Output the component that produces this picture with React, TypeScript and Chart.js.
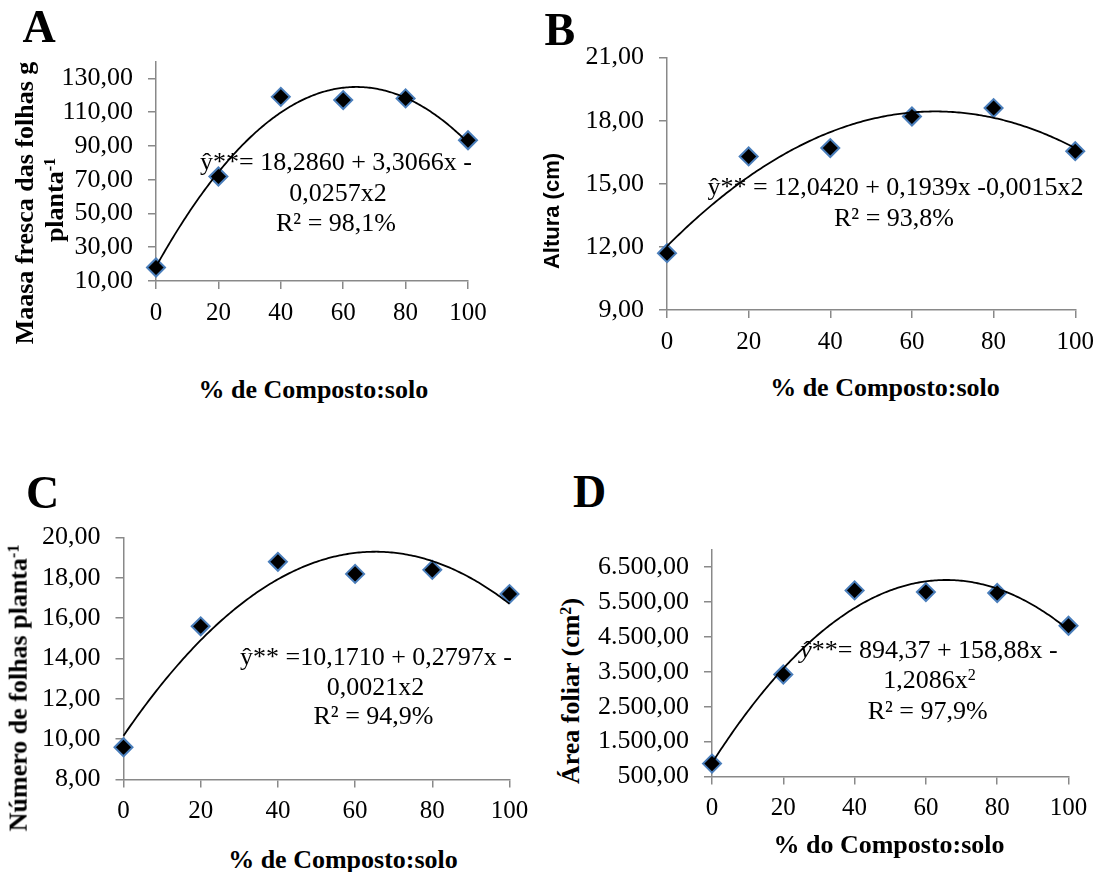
import React, { useEffect, useRef } from 'react';
import { Chart, registerables } from 'chart.js';

Chart.register(...registerables);

// ---------------- data ----------------
const COMPOSTO = [0, 20, 40, 60, 80, 100];
const MASSA_FRESCA = [18.0, 71.9, 119.1, 117.2, 118.2, 93.4];
const ALTURA = [11.7, 16.3, 16.7, 18.2, 18.6, 16.55];
const NUM_FOLHAS = [9.6, 15.6, 18.8, 18.2, 18.4, 17.2];
const AREA_FOLIAR = [869, 3422, 5831, 5784, 5756, 4819];

const X_TICKS = [0, 20, 40, 60, 80, 100];
const A_Y_TICKS = [10, 30, 50, 70, 90, 110, 130];
const B_Y_TICKS = [9, 12, 15, 18, 21];
const C_Y_TICKS = [8, 10, 12, 14, 16, 18, 20];
const D_Y_TICKS = [500, 1500, 2500, 3500, 4500, 5500, 6500];

const A_Y_RANGE = [10, 140];
const B_Y_RANGE = [9, 21];
const C_Y_RANGE = [8, 20];
const D_Y_RANGE = [500, 7000];

// ---------------- style ----------------
const AXIS = '#898989';
const SERIF = '"Liberation Serif", "Times New Roman", serif';
const SANS = '"Liberation Sans", Arial, sans-serif';

function fmtBR(v: number): string {
  const [i, d] = Number(v).toFixed(2).split('.');
  const int = i.replace(/\B(?=(\d{3})+(?!\d))/g, '.');
  return int + ',' + d;
}

// least-squares quadratic trendline (as the spreadsheet computes it)
function quadFit(xs: number[], ys: number[]): [number, number, number] {
  let s0 = 0, s1 = 0, s2 = 0, s3 = 0, s4 = 0, t0 = 0, t1 = 0, t2 = 0;
  for (let k = 0; k < xs.length; k++) {
    const x = xs[k], y = ys[k];
    s0 += 1; s1 += x; s2 += x * x; s3 += x * x * x; s4 += x * x * x * x;
    t0 += y; t1 += x * y; t2 += x * x * y;
  }
  const M = [
    [s0, s1, s2, t0],
    [s1, s2, s3, t1],
    [s2, s3, s4, t2],
  ];
  for (let c = 0; c < 3; c++) {
    for (let r = c + 1; r < 3; r++) {
      const f = M[r][c] / M[c][c];
      for (let k = c; k < 4; k++) M[r][k] -= f * M[c][k];
    }
  }
  const sol = [0, 0, 0];
  for (let r = 2; r >= 0; r--) {
    let v = M[r][3];
    for (let k = r + 1; k < 3; k++) v -= M[r][k] * sol[k];
    sol[r] = v / M[r][r];
  }
  return [sol[0], sol[1], sol[2]];
}

type Plot = { l: number; r: number; t: number; b: number };

type PanelProps = {
  plot: Plot;
  ys: number[];
  yRange: number[];
  yTicks: number[];
};

function ScatterPanel({ plot, ys, yRange, yTicks }: PanelProps) {
  const ref = useRef<HTMLCanvasElement | null>(null);

  const left = Math.floor(plot.l - 120);
  const top = Math.floor(plot.t - 22);
  const right = Math.min(1103, Math.ceil(plot.r + 28));
  const bottom = Math.ceil(plot.b + 52);
  const width = right - left;
  const height = bottom - top;
  const YW = plot.l - left;
  const PT = plot.t - top;
  const PR = right - plot.r;
  const XH = bottom - plot.b;

  useEffect(() => {
    if (!ref.current) return;
    const [a, b, c] = quadFit(COMPOSTO, ys);
    const curve: { x: number; y: number }[] = [];
    const x0 = COMPOSTO[0];
    const x1 = COMPOSTO[COMPOSTO.length - 1];
    for (let k = 0; k <= 200; k++) {
      const x = x0 + ((x1 - x0) * k) / 200;
      curve.push({ x, y: a + b * x + c * x * x });
    }
    const points = COMPOSTO.map((x, i) => ({ x, y: ys[i] }));

    const chart = new Chart(ref.current, {
      type: 'scatter',
      data: {
        datasets: [
          {
            type: 'line',
            data: curve,
            borderColor: '#000',
            borderWidth: 1.8,
            pointRadius: 0,
            fill: false,
            tension: 0,
            clip: false,
            order: 0,
          } as any,
          {
            type: 'scatter',
            data: points,
            pointStyle: 'rectRot',
            pointRadius: 9,
            backgroundColor: '#000',
            borderColor: '#4a7ebb',
            borderWidth: 2,
            clip: false,
            order: 1,
          } as any,
        ],
      },
      options: {
        animation: false,
        responsive: false,
        maintainAspectRatio: false,
        events: [],
        layout: { padding: { left: 0, top: PT, right: PR, bottom: 0 } },
        plugins: {
          legend: { display: false },
          tooltip: { enabled: false },
          title: { display: false },
        },
        scales: {
          x: {
            type: 'linear',
            min: X_TICKS[0],
            max: X_TICKS[X_TICKS.length - 1],
            bounds: 'data',
            afterBuildTicks: (s: any) => {
              s.ticks = X_TICKS.map((v) => ({ value: v }));
            },
            afterFit: (s: any) => {
              s.height = XH;
            },
            grid: {
              display: true,
              drawOnChartArea: false,
              drawTicks: true,
              tickLength: 8,
              color: AXIS,
              lineWidth: 1.5,
            },
            border: { display: true, color: AXIS, width: 1.5 },
            ticks: {
              color: '#000',
              font: { family: SERIF, size: 25 },
              padding: 9,
              maxRotation: 0,
              autoSkip: false,
              includeBounds: false,
              callback: (v: any) => String(v),
            },
          },
          y: {
            type: 'linear',
            min: yRange[0],
            max: yRange[1],
            bounds: 'data',
            afterBuildTicks: (s: any) => {
              s.ticks = yTicks.map((v) => ({ value: v }));
            },
            afterFit: (s: any) => {
              s.width = YW;
            },
            grid: {
              display: true,
              drawOnChartArea: false,
              drawTicks: true,
              tickLength: 8,
              color: AXIS,
              lineWidth: 1.5,
            },
            border: { display: true, color: AXIS, width: 1.5 },
            ticks: {
              color: '#000',
              font: { family: SERIF, size: 26 },
              padding: 15,
              autoSkip: false,
              includeBounds: false,
              callback: (v: any) => fmtBR(Number(v)),
            },
          },
        },
      } as any,
    });
    return () => chart.destroy();
  }, []);

  return (
    <canvas
      ref={ref}
      width={width}
      height={height}
      style={{ position: 'absolute', left, top, width, height, display: 'block' }}
    />
  );
}

// text anchored at its baseline
type LabelProps = {
  x: number;
  y: number;
  size: number;
  bold?: boolean;
  family?: string;
  align?: 'center' | 'left';
  rotate?: boolean;
  children: React.ReactNode;
};

function Label({ x, y, size, bold, family = SERIF, align = 'center', rotate, children }: LabelProps) {
  const L = size * 1.2;
  const isSans = family === SANS;
  const asc = isSans ? 0.905 : 0.891;
  const desc = isSans ? 0.212 : 0.216;
  const base = (L - (asc + desc) * size) / 2 + asc * size;
  const tx = align === 'center' ? '-50%' : '0px';
  return (
    <div style={{ position: 'absolute', left: x, top: y, width: 0, height: 0 }}>
      <div
        style={{
          position: 'absolute',
          left: 0,
          top: 0,
          whiteSpace: 'nowrap',
          fontFamily: family,
          fontSize: size,
          fontWeight: bold ? 'bold' : 'normal',
          lineHeight: `${L}px`,
          color: '#000',
          transformOrigin: '0 0',
          transform: `${rotate ? 'rotate(-90deg) ' : ''}translate(${tx}, ${-base}px)`,
        }}
      >
        {children}
      </div>
    </div>
  );
}

const Sup = ({ children }: { children: React.ReactNode }) => (
  <span style={{ fontSize: '0.62em', verticalAlign: '0.5em', lineHeight: 0 }}>{children}</span>
);

const PLOT_A: Plot = { l: 156, r: 468, t: 53.5, b: 281 };
const PLOT_B: Plot = { l: 667, r: 1080, t: 49.5, b: 310 };
const PLOT_C: Plot = { l: 123.5, r: 509.5, t: 529, b: 779.5 };
const PLOT_D: Plot = { l: 712, r: 1068.5, t: 541, b: 776.5 };

export default function App() {
  const EQ = 26;
  const TT = 26;
  return (
    <div
      style={{
        position: 'absolute',
        left: 0,
        top: 0,
        width: 1103,
        height: 872,
        background: '#fff',
        overflow: 'hidden',
      }}
    >
      <ScatterPanel plot={PLOT_A} ys={MASSA_FRESCA} yRange={A_Y_RANGE} yTicks={A_Y_TICKS} />
      <ScatterPanel plot={PLOT_B} ys={ALTURA} yRange={B_Y_RANGE} yTicks={B_Y_TICKS} />
      <ScatterPanel plot={PLOT_C} ys={NUM_FOLHAS} yRange={C_Y_RANGE} yTicks={C_Y_TICKS} />
      <ScatterPanel plot={PLOT_D} ys={AREA_FOLIAR} yRange={D_Y_RANGE} yTicks={D_Y_TICKS} />

      {/* panel letters */}
      <Label x={22.5} y={41.7} size={46} bold align="left">A</Label>
      <Label x={544.5} y={45} size={46} bold align="left">B</Label>
      <Label x={26} y={508} size={46} bold align="left">C</Label>
      <Label x={573} y={506.7} size={46} bold align="left">D</Label>

      {/* equations */}
      <Label x={336} y={170} size={EQ}>ŷ**= 18,2860 + 3,3066x -</Label>
      <Label x={338} y={200.5} size={EQ}>0,0257x2</Label>
      <Label x={336} y={231} size={EQ}>R² = 98,1%</Label>

      <Label x={895.5} y={195} size={EQ}>ŷ** = 12,0420 + 0,1939x -0,0015x2</Label>
      <Label x={894} y={226} size={EQ}>R² = 93,8%</Label>

      <Label x={376} y={665} size={EQ}>ŷ** =10,1710 + 0,2797x -</Label>
      <Label x={375.5} y={694.5} size={EQ}>0,0021x2</Label>
      <Label x={373.5} y={724.3} size={EQ}>R² = 94,9%</Label>

      <Label x={929} y={658.3} size={EQ}><i>ŷ</i>**= 894,37 + 158,88x -</Label>
      <Label x={929.5} y={688.3} size={EQ}>1,2086x<Sup>2</Sup></Label>
      <Label x={927.7} y={719.3} size={EQ}>R² = 97,9%</Label>

      {/* x axis titles */}
      <Label x={313.3} y={398} size={TT} bold>% de Composto:solo</Label>
      <Label x={885} y={396} size={TT} bold>% de Composto:solo</Label>
      <Label x={343} y={868} size={TT} bold>% de Composto:solo</Label>
      <Label x={889} y={853} size={TT} bold>% do Composto:solo</Label>

      {/* y axis titles */}
      <Label x={33} y={203} size={TT} bold rotate>Maasa fresca das folhas g</Label>
      <Label x={62.5} y={200} size={TT} bold rotate>planta<Sup>-1</Sup></Label>
      <Label x={559.5} y={211} size={22} bold family={SANS} rotate>Altura (cm)</Label>
      <Label x={26.7} y={687.5} size={TT} bold rotate>Número de folhas planta<Sup>-1</Sup></Label>
      <Label x={579} y={691} size={TT} bold rotate>Área foliar (cm<Sup>2</Sup>)</Label>
    </div>
  );
}
